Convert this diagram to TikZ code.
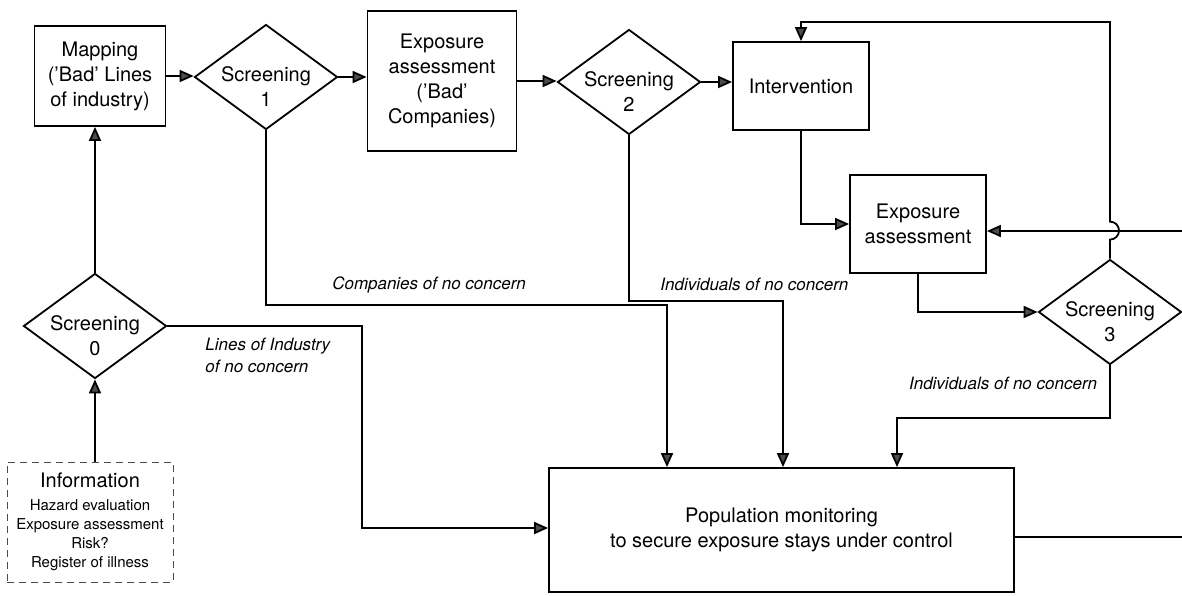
\documentclass[tikz,border=0pt]{standalone}
\usepackage{fontspec}
\setmainfont{TeX Gyre Heros}
\usepackage{tikz}
\usetikzlibrary{positioning,shapes,arrows.meta}
\tikzstyle{box}=[rectangle, draw=black, line width=0.9pt, align=center, inner sep=2pt, font=\fontsize{10}{12.5}\selectfont]
\tikzstyle{screen}=[diamond, draw=black, line width=0.9pt, inner sep=0pt, minimum width=71.5pt, minimum height=52.5pt]
\tikzstyle{screentext}=[align=center, inner sep=0pt, font=\fontsize{10}{12.5}\selectfont]
\tikzstyle{infobox}=[rectangle, draw=black!70, line width=0.5pt, dash pattern=on 3.5pt off 2.5pt, align=center, minimum width=83pt, minimum height=60pt, font=\fontsize{7.5}{9.5}\selectfont]
\tikzstyle{note}=[inner sep=0pt, font=\fontsize{8.5}{11}\selectfont\itshape]
\tikzstyle{flow}=[->, line width=0.9pt]
\tikzset{>={Triangle[length=7pt,width=6pt,fill=black!70]}}

\begin{document}
\begin{tikzpicture}[x=0.5pt, y=-0.5pt]
        \useasboundingbox (0,0) rectangle (1182,595);

        % upper row
        \node[box, minimum width=65.5pt, minimum height=50pt] (map) at (100,76) {Mapping\\('Bad' Lines\\of industry)};
        \node[screen] (scr1) at (266,77) {};
        \node[screentext] (scr1txt) at ([yshift=-5pt]scr1.center) {Screening\\1};
        \node[box, minimum width=74.5pt, minimum height=70pt] (ea1) at (442,81) {Exposure\\assessment\\('Bad'\\Companies)};
        \node[screen] (scr2) at (629,82) {};
        \node[screentext] (scr2txt) at ([yshift=-5pt]scr2.center) {Screening\\2};
        \node[box, minimum width=68pt, minimum height=44pt] (int) at (801,86) {Intervention};
        \node[box, minimum width=68pt, minimum height=49pt] (ea2) at (918,224) {Exposure\\assessment};
        \node[screen] (scr3) at (1110,312) {};
        \node[screentext] (scr3txt) at ([yshift=-5pt]scr3.center) {Screening\\3};

        % left column and bottom
        \node[screen] (scr0) at (95,326) {};
        \node[screentext] (scr0txt) at ([yshift=-5pt]scr0.center) {Screening\\0};
        \node[infobox] (info) at (90,522) {{\fontsize{10}{12}\selectfont Information}\\[2pt]Hazard evaluation\\Exposure assessment\\Risk?\\Register of illness};
        \node[box, minimum width=232.5pt, minimum height=62pt] (pop) at (781.5,530) {Population monitoring\\to secure exposure stays under control};

        \node[note, anchor=north west, align=left] (nl0) at (205,338) {Lines of Industry\\of no concern};
        \node[note] (nc1) at (429,285) {Companies of no concern};
        \node[note, anchor=west] (ni2) at (660,284) {Individuals of no concern};
        \node[note] (ni3) at (1003,383) {Individuals of no concern};

        \coordinate (turn0) at (362,528);
        \coordinate (turn1) at (667,305);
        \coordinate (turn2) at (783,301);
        \coordinate (turn3) at (897,418);
        \coordinate (fbtop) at (1110,22);
        \coordinate (inR) at (1182,231);
        \coordinate (outR) at (1182,537);

        \draw[flow] (info.north -| scr0.south) -- (scr0.south);
        \draw[flow] (scr0.north) -- (scr0.north |- map.south);
        \draw[flow] (map.east) -- (map.east -| scr1.west);
        \draw[flow] (scr1.east) -- (scr1.east -| ea1.west);
        \draw[flow] (ea1.east) -- (ea1.east -| scr2.west);
        \draw[flow] (scr2.east) -- (scr2.east -| int.west);
        \draw[flow] (int.south) |- (ea2.west);
        \draw[flow] (ea2.south) |- (scr3.west);
        \draw[flow] (inR) -- (inR -| ea2.east);
        \draw[flow] (scr3.north) -- ++(0,-19) arc[start angle=-90, end angle=90, radius=4.5pt] -- (fbtop) -| (int.north);

        \draw[flow] (scr0.east) -| (turn0) -- (turn0 -| pop.west);
        \draw[flow] (scr1.south) |- (turn1) -- (turn1 |- pop.north);
        \draw[flow] (scr2.south) |- (turn2) -- (turn2 |- pop.north);
        \draw[flow] (scr3.south) |- (turn3) -- (turn3 |- pop.north);
        \draw[line width=0.9pt] (outR -| pop.east) -- (outR);

    \end{tikzpicture}
\end{document}
